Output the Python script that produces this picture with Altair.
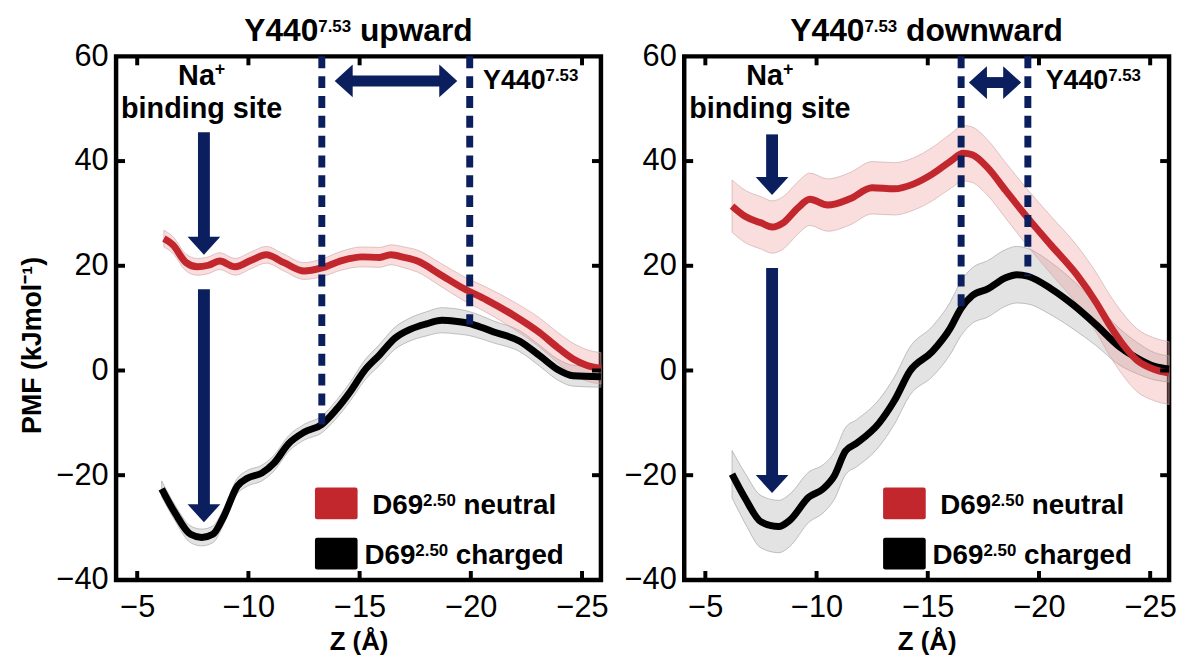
import altair as alt
import pandas as pd

FONT = "Liberation Sans"
NAVY = "#0b1f5e"
RED = "#c1272d"

# ---------------- data ----------------
# Y440 upward panel
up_neu_z = [-6.2, -6.6, -7.2, -7.7, -8.2, -8.7, -9.4, -10.1, -10.8, -11.6, -12.5, -13.3, -14.2,
            -15.1, -15.9, -16.4, -17.0, -17.6, -18.6, -19.7, -20.7, -21.9, -23.1, -23.9, -24.6,
            -25.2, -25.85]
up_neu_v = [25.2, 24.0, 20.6, 19.8, 20.1, 20.9, 19.8, 21.0, 22.1, 20.6, 19.0, 19.6, 21.0,
            21.7, 21.6, 22.1, 21.6, 20.9, 18.4, 15.6, 13.5, 10.6, 7.2, 4.4, 2.2, 1.0, 0.4]
up_neu_e = [1.6, 1.6, 1.6, 1.6, 1.6, 1.6, 1.6, 1.6, 1.6, 1.6, 1.6, 1.7, 1.8,
            1.9, 1.9, 1.9, 2.0, 2.1, 2.2, 2.3, 2.4, 2.6, 2.8, 2.9, 3.0, 3.0, 3.0]

up_chg_z = [-6.1, -6.7, -7.4, -7.9, -8.4, -8.9, -9.5, -9.95, -10.6, -11.15, -11.8, -12.5,
            -13.3, -13.9, -14.6, -15.2, -15.9, -16.6, -17.3, -18.0, -18.7, -19.3, -19.9, -20.5,
            -21.0, -22.2, -23.1, -23.9, -24.6, -25.85]
up_chg_v = [-22.6, -27.2, -31.3, -31.9, -31.3, -27.8, -22.1, -20.6, -19.6, -17.7, -14.0, -11.8,
            -10.3, -7.7, -3.9, -0.1, 3.0, 6.2, 7.9, 8.9, 9.6, 9.4, 9.0, 8.2,
            7.4, 5.6, 2.8, 0.2, -1.0, -1.2]
up_chg_e = [1.5, 1.5, 1.6, 1.6, 1.6, 1.5, 1.5, 1.5, 1.5, 1.5, 1.5, 1.5,
            1.6, 1.7, 1.8, 1.9, 2.0, 2.1, 2.2, 2.3, 2.4, 2.4, 2.3, 2.2,
            2.1, 2.0, 2.0, 2.0, 2.0, 2.0]

# Y440 downward panel
dn_neu_z = [-6.2, -6.8, -7.5, -8.0, -8.5, -9.15, -9.7, -10.5, -11.5, -12.5, -13.5, -14.35,
            -15.2, -16.0, -16.6, -17.0, -17.7, -18.5, -19.5, -20.55, -21.7, -22.6, -23.2,
            -23.7, -24.4, -25.2, -25.85]
dn_neu_v = [31.4, 29.4, 28.2, 27.4, 28.2, 31.0, 32.7, 31.6, 32.8, 34.9, 34.7, 35.6,
            37.5, 39.9, 41.5, 41.2, 38.7, 34.4, 29.1, 23.9, 18.3, 12.8, 8.5,
            5.4, 2.0, 0.2, -0.5]
dn_neu_e = [5.0, 5.0, 5.0, 5.0, 5.0, 5.0, 5.0, 5.0, 5.0, 5.0, 5.0, 5.0,
            5.1, 5.2, 5.3, 5.3, 5.3, 5.3, 5.4, 5.5, 5.6, 5.7, 5.8,
            5.9, 6.0, 6.0, 6.0]

dn_chg_z = [-6.2, -6.8, -7.5, -8.3, -8.8, -9.65, -10.3, -10.8, -11.3, -11.8, -12.8, -13.5,
            -14.2, -15.2, -16.0, -16.5, -17.0, -17.7, -18.5, -19.0, -19.5, -20.55, -21.55,
            -22.55, -23.6, -24.4, -25.2, -25.85]
dn_chg_v = [-19.8, -24.5, -28.9, -29.8, -28.6, -24.2, -22.6, -20.1, -15.4, -13.9, -10.1, -5.75,
            -0.1, 3.6, 8.0, 11.9, 14.3, 15.6, 17.7, 18.3, 18.0, 15.6, 12.5,
            8.8, 4.6, 2.4, 0.8, 0.3]
dn_chg_e = [4.5, 4.8, 5.0, 5.0, 5.0, 4.8, 4.6, 4.5, 4.5, 4.5, 4.5, 4.5,
            4.6, 4.8, 5.0, 5.2, 5.3, 5.4, 5.4, 5.4, 5.3, 5.0, 4.6,
            4.0, 3.5, 3.0, 2.6, 2.5]

# ---------------- text ----------------
residue = "Y440"
residue_sup = "7.53"
directions = [" upward", " downward"]
mutant = "D69"
mutant_sup = "2.50"
states = [" neutral", " charged"]
na_main, na_sup = "Na", "+"
binding = "binding site"
x_title = "Z (Å)"
y_title = "PMF (kJmol⁻¹)"
x_ticks = [-5, -10, -15, -20, -25]
y_ticks = [-40, -20, 0, 20, 40, 60]
y_inner_ticks = [-20, 0, 20, 40]

# ---------------- annotation anchors (data coordinates) ----------------
up_dash_z = [-13.3, -19.95]
up_dash_bot = [-10.3, 8.8]
dn_dash_z = [-16.5, -19.5]
dn_dash_bot = [11.9, 18.0]
dash_top = [60, 60]
up_harrow = [-13.88, -19.39]
up_harrow_v = 55.3
dn_harrow = [-16.85, -19.2]
dn_harrow_v = 55.0
up_varrow_top = [45.5, 15.5]
up_varrow_tip = [22.1, -29.0]
dn_varrow_top = [45.1, 19.6]
dn_varrow_tip = [33.5, -23.4]
varrow_z = -8.0
na_z = -7.9
na_v = [54.5, 48.3]
up_y440_z = -20.55
dn_y440_z = -20.3
y440_v = 53.8
leg_sym_z = -13.95
leg_sym_v = [-25.4, -35.0]
leg_txt_z = -19.7
leg_txt_v = [-27.4, -37.0]

# ---------------- styling ----------------
XDOM = [-4.05, -25.85]
YDOM = [-40, 60]
W, H = 489, 528
TICK_PX = 9
HEAD_V = 3.1   # arrow head length (y data units)
HEAD_H = 0.7   # arrow head length (x data units)
DOWN = "M-1,-1.1L1,-1.1L0,0Z"
LEFT = "M0,0L1.1,-1L1.1,1Z"
RIGHT = "M0,0L-1.1,-1L-1.1,1Z"
RECT = ("M-0.9,-0.744L0.9,-0.744Q1,-0.744 1,-0.644L1,0.644Q1,0.744 0.9,0.744"
        "L-0.9,0.744Q-1,0.744 -1,0.644L-1,-0.644Q-1,-0.744 -0.9,-0.744Z")

# Arial / Liberation Sans Bold advance widths (1/1000 em)
AW = {" ": 278, "+": 584, ".": 278, "D": 722, "N": 722, "Y": 667, "a": 556, "b": 611,
      "c": 556, "d": 611, "e": 556, "g": 611, "h": 611, "i": 278, "l": 278, "n": 611,
      "o": 611, "p": 611, "r": 389, "s": 556, "t": 333, "u": 611, "w": 778}
for _d in "0123456789":
    AW[_d] = 556


def tw(s, size):
    return sum(AW.get(c, 556) for c in s) * size / 1000.0


def rich(df, pieces, align, x, y):
    """Text with superscripts: pieces = [(text, fontSize, raise_px), ...]."""
    total = sum(tw(t, s) for t, s, _ in pieces)
    off = -total / 2.0 if align == "center" else 0.0
    out = []
    for t, s, r in pieces:
        body = t.lstrip()
        lead = tw(t[:len(t) - len(body)], s)
        out.append(alt.Chart(df).mark_text(
            text=body, font=FONT, fontSize=s, fontWeight="bold", color="black",
            align="left", baseline="alphabetic", dx=off + lead, dy=-r
        ).encode(x=x, y=y))
        off += tw(t, s)
    return out


def band(z, v, e):
    df = pd.DataFrame({"z": z, "v": v, "e": e})
    df["lo"] = df["v"] - df["e"]
    df["hi"] = df["v"] + df["e"]
    return df


def make_panel(direction, neu, chg, dash_z, dash_bot, harrow, harrow_v,
               varrow_top, varrow_tip, y440_z, ytitle):
    xs = alt.Scale(domain=XDOM, nice=False, zero=False)
    ys = alt.Scale(domain=YDOM, nice=False, zero=False)
    lab = dict(labelFont=FONT, labelFontSize=31, labelColor="black", grid=False,
               domain=False, ticks=False)
    ax_b = alt.Axis(orient="bottom", values=x_ticks, labelPadding=13, labelFlush=False,
                    title=x_title, titleFont=FONT, titleFontSize=26, titleFontWeight="bold",
                    titleColor="black", titlePadding=6, **lab)
    if ytitle:
        ax_l = alt.Axis(orient="left", values=y_ticks, labelPadding=8, title=ytitle,
                        titleFont=FONT, titleFontSize=27, titleFontWeight="bold",
                        titleColor="black", titlePadding=10, titleY=H / 2.0 + 27, **lab)
    else:
        ax_l = alt.Axis(orient="left", values=y_ticks, labelPadding=8, title=None, **lab)

    def X(f, axis=None):
        return alt.X(f, scale=xs, axis=axis)

    def Y(f, axis=None):
        return alt.Y(f, scale=ys, axis=axis)

    layers = []
    layers.append(alt.Chart(chg).mark_area(
        interpolate="monotone", fill="#a3a3a3", fillOpacity=0.3,
        stroke="#9c9c9c", strokeWidth=1, strokeOpacity=0.6
    ).encode(x=X("z:Q", ax_b), y=Y("lo:Q", ax_l), y2="hi:Q"))

    layers.append(alt.Chart(neu).mark_area(
        interpolate="monotone", fill="#ee8f8f", fillOpacity=0.3,
        stroke="#c9a3a3", strokeWidth=1, strokeOpacity=0.6
    ).encode(x=X("z:Q"), y=Y("lo:Q"), y2="hi:Q"))

    layers.append(alt.Chart(chg).mark_line(
        interpolate="monotone", color="black", strokeWidth=7, strokeJoin="round"
    ).encode(x=X("z:Q"), y=Y("v:Q")))

    layers.append(alt.Chart(neu).mark_line(
        interpolate="monotone", color=RED, strokeWidth=7, strokeJoin="round"
    ).encode(x=X("z:Q"), y=Y("v:Q")))

    # inward ticks on all four sides of the frame
    tv = TICK_PX * (YDOM[1] - YDOM[0]) / H
    th = TICK_PX * (XDOM[0] - XDOM[1]) / W
    tx = pd.DataFrame({"z": x_ticks})
    tx["b0"], tx["b1"] = YDOM[0], YDOM[0] + tv
    tx["t0"], tx["t1"] = YDOM[1], YDOM[1] - tv
    ty = pd.DataFrame({"v": y_inner_ticks})
    ty["l0"], ty["l1"] = XDOM[0], XDOM[0] - th
    ty["r0"], ty["r1"] = XDOM[1], XDOM[1] + th
    tick = dict(color="black", strokeWidth=4)
    layers.append(alt.Chart(tx).mark_rule(**tick).encode(x=X("z:Q"), y=Y("b0:Q"), y2="b1:Q"))
    layers.append(alt.Chart(tx).mark_rule(**tick).encode(x=X("z:Q"), y=Y("t0:Q"), y2="t1:Q"))
    layers.append(alt.Chart(ty).mark_rule(**tick).encode(y=Y("v:Q"), x=X("l0:Q"), x2="l1:Q"))
    layers.append(alt.Chart(ty).mark_rule(**tick).encode(y=Y("v:Q"), x=X("r0:Q"), x2="r1:Q"))

    dash_df = pd.DataFrame({"z": dash_z, "top": dash_top, "bot": dash_bot})
    layers.append(alt.Chart(dash_df).mark_rule(
        color=NAVY, strokeWidth=7, strokeDash=[12, 8]
    ).encode(x=X("z:Q"), y=Y("top:Q"), y2="bot:Q"))

    va = pd.DataFrame({"z": [varrow_z] * len(varrow_top), "top": varrow_top,
                       "tip": varrow_tip})
    va["base"] = va["tip"] + HEAD_V
    layers.append(alt.Chart(va).mark_rule(color=NAVY, strokeWidth=12).encode(
        x=X("z:Q"), y=Y("top:Q"), y2="base:Q"))
    layers.append(alt.Chart(va).mark_point(
        shape=DOWN, size=1089, filled=True, color=NAVY, opacity=1
    ).encode(x=X("z:Q"), y=Y("tip:Q")))

    ha = pd.DataFrame({"a": [harrow[0] - HEAD_H], "b": [harrow[1] + HEAD_H],
                       "v": [harrow_v]})
    layers.append(alt.Chart(ha).mark_rule(color=NAVY, strokeWidth=11).encode(
        x=X("a:Q"), x2="b:Q", y=Y("v:Q")))
    hh = pd.DataFrame({"z": harrow, "v": [harrow_v, harrow_v], "dir": ["L", "R"]})
    layers.append(alt.Chart(hh).mark_point(
        size=1089, filled=True, color=NAVY, opacity=1
    ).encode(x=X("z:Q"), y=Y("v:Q"),
             shape=alt.Shape("dir:N", scale=alt.Scale(domain=["L", "R"], range=[LEFT, RIGHT]),
                             legend=None)))

    # "Na+ / binding site"
    na_df = pd.DataFrame({"z": [na_z], "v": [na_v[0]]})
    layers += rich(na_df, [(na_main, 29, 0), (na_sup, 18, 10)], "center",
                   X("z:Q"), Y("v:Q"))
    bs_df = pd.DataFrame({"z": [na_z], "v": [na_v[1]], "t": [binding]})
    layers.append(alt.Chart(bs_df).mark_text(
        font=FONT, fontSize=29, fontWeight="bold", color="black",
        align="center", baseline="alphabetic"
    ).encode(x=X("z:Q"), y=Y("v:Q"), text="t:N"))

    # "Y440^7.53" beside the dashed line
    y4_df = pd.DataFrame({"z": [y440_z], "v": [y440_v]})
    layers += rich(y4_df, [(residue, 27, 0), (residue_sup, 17, 8)], "left",
                   X("z:Q"), Y("v:Q"))

    # legend (symbols + labels with superscripts)
    keys = [s.strip() for s in states]
    ls = pd.DataFrame({"z": [leg_sym_z] * 2, "v": leg_sym_v, "s": keys})
    layers.append(alt.Chart(ls).mark_point(
        shape=RECT, size=1849, filled=True, opacity=1, strokeWidth=0
    ).encode(x=X("z:Q"), y=Y("v:Q"),
             fill=alt.Fill("s:N", scale=alt.Scale(domain=keys, range=[RED, "black"]),
                           legend=None)))
    for i, st in enumerate(states):
        lt = pd.DataFrame({"z": [leg_txt_z], "v": [leg_txt_v[i]]})
        layers += rich(lt, [(mutant, 28, 0), (mutant_sup, 17, 8), (st, 28, 0)], "center",
                       X("z:Q"), Y("v:Q"))

    # panel title (above the frame)
    t_df = pd.DataFrame({"k": [0]})
    layers += rich(t_df, [(residue, 32, 0), (residue_sup, 17, 9), (direction, 32, 0)],
                   "center", alt.value(W / 2.0), alt.value(-16))

    return alt.layer(*layers).resolve_axis(x="independent", y="independent").properties(
        width=W, height=H)


left = make_panel(directions[0], band(up_neu_z, up_neu_v, up_neu_e),
                  band(up_chg_z, up_chg_v, up_chg_e), up_dash_z, up_dash_bot,
                  up_harrow, up_harrow_v, up_varrow_top, up_varrow_tip, up_y440_z, y_title)
right = make_panel(directions[1], band(dn_neu_z, dn_neu_v, dn_neu_e),
                   band(dn_chg_z, dn_chg_v, dn_chg_e), dn_dash_z, dn_dash_bot,
                   dn_harrow, dn_harrow_v, dn_varrow_top, dn_varrow_tip, dn_y440_z, None)

chart = alt.hconcat(left, right, spacing=11).resolve_scale(
    fill="independent", shape="independent"
).properties(
    padding={"left": 8, "top": 1, "right": 0, "bottom": 0}
).configure(font=FONT).configure_view(stroke="black", strokeWidth=4.5)

chart.save("out.html", embed_options={"renderer": "svg", "actions": False})
